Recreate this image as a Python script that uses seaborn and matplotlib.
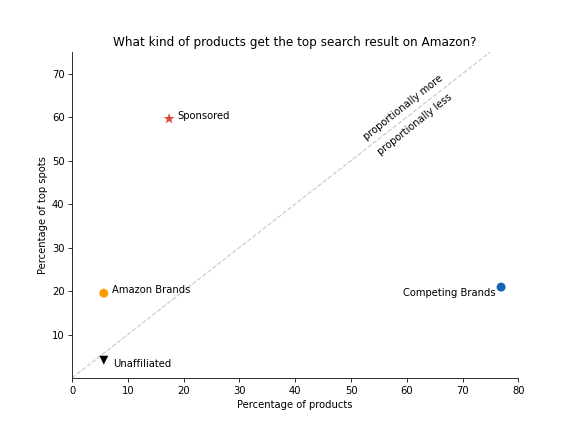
import pandas as pd
import seaborn as sns
import matplotlib.pyplot as plt

# data
categories = ['Sponsored', 'Amazon Brands', 'Unaffiliated', 'Competing Brands']
pct_products = [17.4, 5.7, 5.7, 76.9]
pct_top = [59.6, 19.5, 4.1, 20.9]
marker_map = {'Sponsored': '*', 'Amazon Brands': 'o', 'Unaffiliated': 'v', 'Competing Brands': 'o'}
size_map = {'Sponsored': 130, 'Amazon Brands': 80, 'Unaffiliated': 80, 'Competing Brands': 80}
color_map = {'Sponsored': '#d9483b', 'Amazon Brands': '#ff9900', 'Unaffiliated': '#000000', 'Competing Brands': '#1565b0'}

df = pd.DataFrame({'cat': categories, 'x': pct_products, 'y': pct_top})

sns.set_style('white', {'text.color': 'black', 'axes.labelcolor': 'black',
                        'xtick.color': 'black', 'ytick.color': 'black', 'axes.edgecolor': 'black'})
fig, ax = plt.subplots(figsize=(8, 6), dpi=72)
fig.subplots_adjust(left=0.125, right=0.9, top=0.88, bottom=0.125)

ax.plot([0, 75], [0, 75], ls='--', color='#cccccc', lw=1.2, zorder=1)

sns.scatterplot(data=df, x='x', y='y', hue='cat', style='cat', size='cat', palette=color_map,
                markers=marker_map, sizes=size_map, edgecolor='none', legend=False, ax=ax, zorder=3)

# labels next to the points
for c, x, y in zip(categories, pct_products, pct_top):
    if c == 'Competing Brands':
        ax.text(x - 1, y - 1.4, c, ha='right', va='center', fontsize=10)
    elif c == 'Unaffiliated':
        ax.text(x + 1.7, y - 0.8, c, ha='left', va='center', fontsize=10)
    else:
        ax.text(x + 1.5, y + 0.7, c, ha='left', va='center', fontsize=10)

ax.text(59.4, 62.3, 'proportionally more', rotation=38.5, ha='center', va='center', fontsize=10)
ax.text(61.5, 58.2, 'proportionally less', rotation=38.5, ha='center', va='center', fontsize=10)

ax.set_xlim(0, 80)
ax.set_ylim(0, 75)
ax.set_yticks([10, 20, 30, 40, 50, 60, 70])
ax.set_xlabel('Percentage of products')
ax.set_ylabel('Percentage of top spots')
ax.set_title('What kind of products get the top search result on Amazon?', fontsize=12)
ax.tick_params(axis='both', which='both', left=True, bottom=True, length=4, color='black')
sns.despine(ax=ax)

plt.savefig('out.png', dpi=72)
